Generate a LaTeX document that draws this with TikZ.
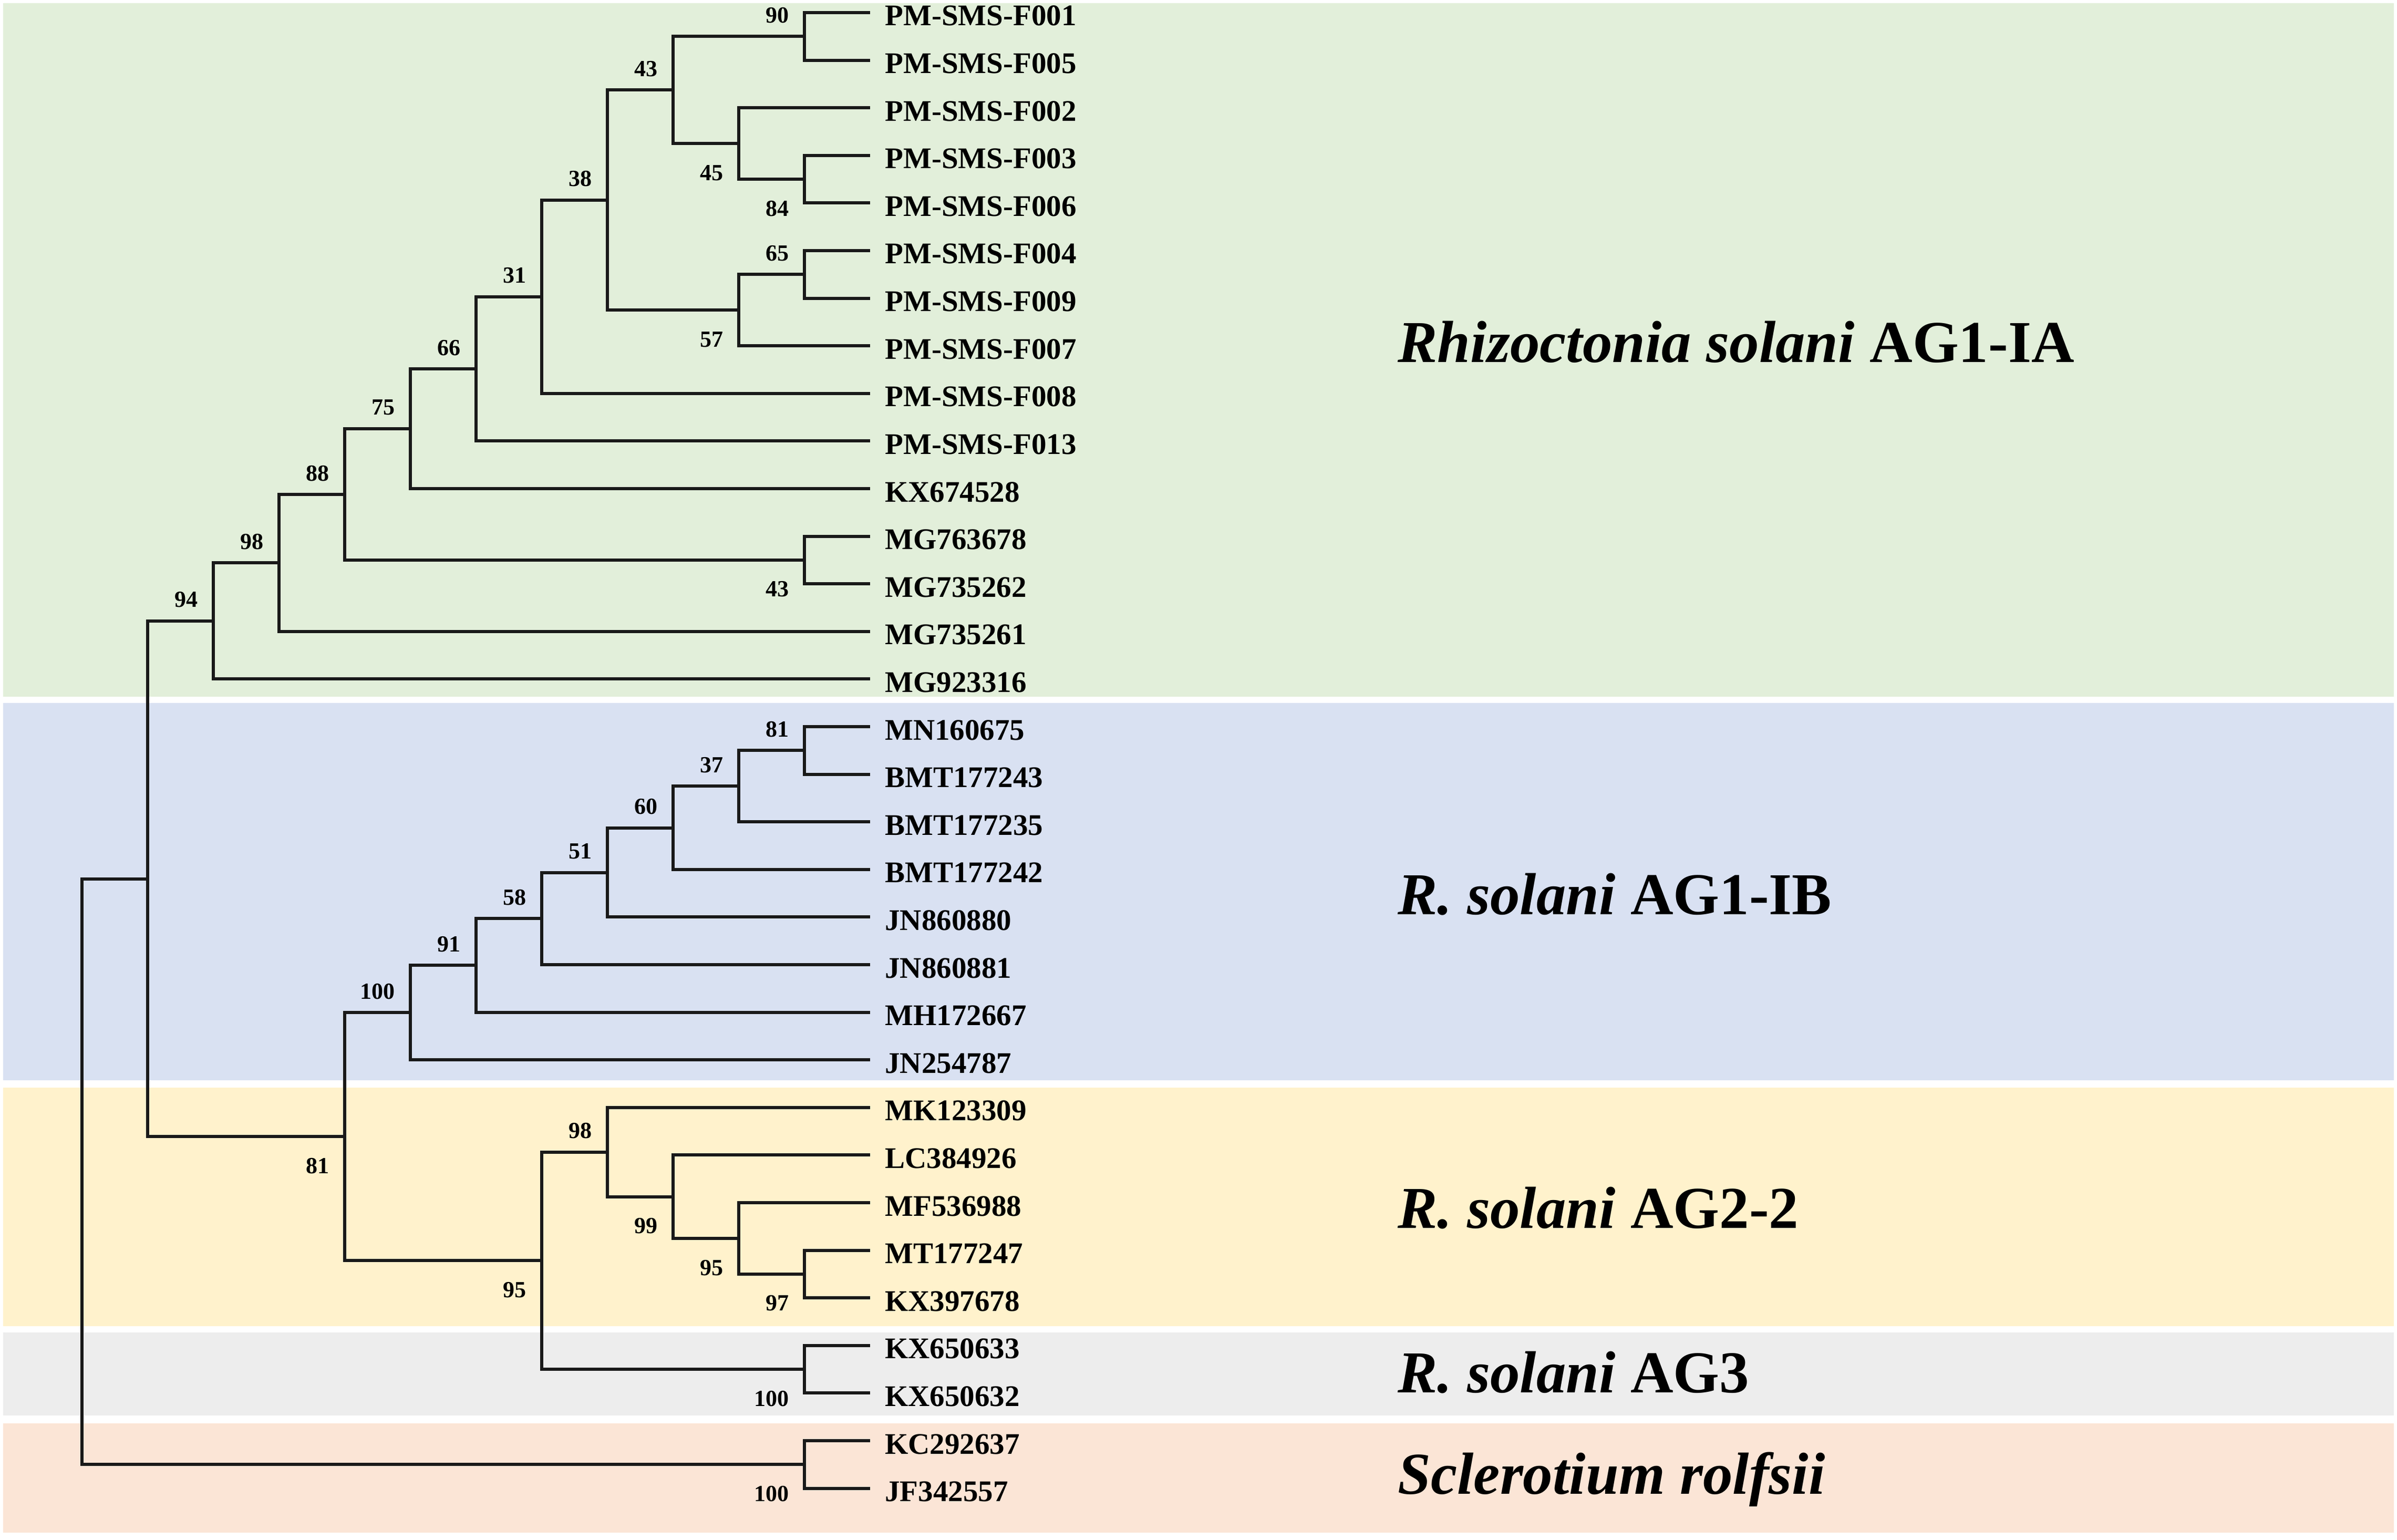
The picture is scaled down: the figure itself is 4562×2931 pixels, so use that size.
\documentclass[tikz,border=0pt]{standalone}
\usepackage{fontspec}
\setmainfont{Liberation Serif}
\definecolor{iafill}{HTML}{E2EFDA}
\definecolor{ibfill}{HTML}{D9E1F2}
\definecolor{agfill}{HTML}{FFF2CC}
\definecolor{agthreefill}{HTML}{EDEDED}
\definecolor{srfill}{HTML}{FBE5D6}
\tikzset{branch/.style = {line width = 3pt, color = black!90}}
\tikzset{leaf/.style = {anchor = west, inner xsep = 14pt, inner ysep = 0, text height = 25pt, text depth = 0pt, font = \fontsize{28.5}{30}\selectfont\bfseries}}
\tikzset{boot/.style = {anchor = base east, inner sep = 0, font = \fontsize{22}{24}\selectfont\bfseries}}
\tikzset{bup/.style = {boot, xshift = -14.5pt, yshift = 13pt}}
\tikzset{bdn/.style = {boot, xshift = -14.5pt, yshift = -35pt}}
\tikzset{clade/.style = {anchor = base west, inner sep = 0, font = \fontsize{56.5}{60}\selectfont\bfseries}}

\begin{document}
\begin{tikzpicture}[x = 0.5pt, y = -0.5pt]
      \useasboundingbox (0, 0) rectangle (4562, 2931);
      \fill [iafill] (6, 6) rectangle (4556, 1326);
      \fill [ibfill] (6, 1338) rectangle (4556, 2056);
      \fill [agfill] (6, 2070) rectangle (4556, 2524);
      \fill [agthreefill] (6, 2536) rectangle (4556, 2694);
      \fill [srfill] (6, 2709) rectangle (4556, 2917);

      \node [leaf] (F001) at (1656, 24.0) {PM-SMS-F001};
      \node [leaf] (F005) at (1656, 114.6) {PM-SMS-F005};
      \node [leaf] (F002) at (1656, 205.2) {PM-SMS-F002};
      \node [leaf] (F003) at (1656, 295.8) {PM-SMS-F003};
      \node [leaf] (F006) at (1656, 386.4) {PM-SMS-F006};
      \node [leaf] (F004) at (1656, 477.0) {PM-SMS-F004};
      \node [leaf] (F009) at (1656, 567.6) {PM-SMS-F009};
      \node [leaf] (F007) at (1656, 658.2) {PM-SMS-F007};
      \node [leaf] (F008) at (1656, 748.8) {PM-SMS-F008};
      \node [leaf] (F013) at (1656, 839.4) {PM-SMS-F013};
      \node [leaf] (KX674528) at (1656, 930.0) {KX674528};
      \node [leaf] (MG763678) at (1656, 1020.6) {MG763678};
      \node [leaf] (MG735262) at (1656, 1111.2) {MG735262};
      \node [leaf] (MG735261) at (1656, 1201.8) {MG735261};
      \node [leaf] (MG923316) at (1656, 1292.4) {MG923316};
      \node [leaf] (MN160675) at (1656, 1383.0) {MN160675};
      \node [leaf] (BMT177243) at (1656, 1473.6) {BMT177243};
      \node [leaf] (BMT177235) at (1656, 1564.2) {BMT177235};
      \node [leaf] (BMT177242) at (1656, 1654.8) {BMT177242};
      \node [leaf] (JN860880) at (1656, 1745.4) {JN860880};
      \node [leaf] (JN860881) at (1656, 1836.0) {JN860881};
      \node [leaf] (MH172667) at (1656, 1926.6) {MH172667};
      \node [leaf] (JN254787) at (1656, 2017.2) {JN254787};
      \node [leaf] (MK123309) at (1656, 2107.8) {MK123309};
      \node [leaf] (LC384926) at (1656, 2198.4) {LC384926};
      \node [leaf] (MF536988) at (1656, 2289.0) {MF536988};
      \node [leaf] (MT177247) at (1656, 2379.6) {MT177247};
      \node [leaf] (KX397678) at (1656, 2470.2) {KX397678};
      \node [leaf] (KX650633) at (1656, 2560.8) {KX650633};
      \node [leaf] (KX650632) at (1656, 2651.4) {KX650632};
      \node [leaf] (KC292637) at (1656, 2742.0) {KC292637};
      \node [leaf] (JF342557) at (1656, 2832.6) {JF342557};

      % inner nodes of the tree
      \coordinate (ia90) at (1531, 69.3);
      \coordinate (ia84) at (1531, 341.1);
      \coordinate (ia45) at (1406, 273.2);
      \coordinate (ia43) at (1281, 171.2);
      \coordinate (ia65) at (1531, 522.3);
      \coordinate (ia57) at (1406, 590.3);
      \coordinate (ia38) at (1156, 380.7);
      \coordinate (ia31) at (1031, 564.8);
      \coordinate (ia66) at (906, 702.1);
      \coordinate (ia75) at (781, 816.0);
      \coordinate (iamg) at (1531, 1065.9);
      \coordinate (ia88) at (656, 941.0);
      \coordinate (ia98) at (531, 1071.4);
      \coordinate (ia94) at (406, 1181.9);
      \coordinate (ib81) at (1531, 1428.3);
      \coordinate (ib37) at (1406, 1496.3);
      \coordinate (ib60) at (1281, 1575.5);
      \coordinate (ib51) at (1156, 1660.5);
      \coordinate (ib58) at (1031, 1748.2);
      \coordinate (ib91) at (906, 1837.4);
      \coordinate (ib100) at (781, 1927.3);
      \coordinate (ag97) at (1531, 2424.9);
      \coordinate (ag95) at (1406, 2357.0);
      \coordinate (ag99) at (1281, 2277.7);
      \coordinate (ag98) at (1156, 2192.7);
      \coordinate (ag3) at (1531, 2606.1);
      \coordinate (ag95b) at (1031, 2399.4);
      \coordinate (rs81) at (656, 2163.3);
      \coordinate (rs) at (281, 1672.6);
      \coordinate (sr100) at (1531, 2787.3);
      \coordinate (root) at (156, 2229.9);

      % AG1-IA
      \draw [branch] (ia90) |- (F001.west) (ia90) |- (F005.west);
      \draw [branch] (ia84) |- (F003.west) (ia84) |- (F006.west);
      \draw [branch] (ia45) |- (F002.west) (ia45) |- (ia84);
      \draw [branch] (ia43) |- (ia90) (ia43) |- (ia45);
      \draw [branch] (ia65) |- (F004.west) (ia65) |- (F009.west);
      \draw [branch] (ia57) |- (ia65) (ia57) |- (F007.west);
      \draw [branch] (ia38) |- (ia43) (ia38) |- (ia57);
      \draw [branch] (ia31) |- (ia38) (ia31) |- (F008.west);
      \draw [branch] (ia66) |- (ia31) (ia66) |- (F013.west);
      \draw [branch] (ia75) |- (ia66) (ia75) |- (KX674528.west);
      \draw [branch] (iamg) |- (MG763678.west) (iamg) |- (MG735262.west);
      \draw [branch] (ia88) |- (ia75) (ia88) |- (iamg);
      \draw [branch] (ia98) |- (ia88) (ia98) |- (MG735261.west);
      \draw [branch] (ia94) |- (ia98) (ia94) |- (MG923316.west);
      % AG1-IB
      \draw [branch] (ib81) |- (MN160675.west) (ib81) |- (BMT177243.west);
      \draw [branch] (ib37) |- (ib81) (ib37) |- (BMT177235.west);
      \draw [branch] (ib60) |- (ib37) (ib60) |- (BMT177242.west);
      \draw [branch] (ib51) |- (ib60) (ib51) |- (JN860880.west);
      \draw [branch] (ib58) |- (ib51) (ib58) |- (JN860881.west);
      \draw [branch] (ib91) |- (ib58) (ib91) |- (MH172667.west);
      \draw [branch] (ib100) |- (ib91) (ib100) |- (JN254787.west);
      % AG2-2 and AG3
      \draw [branch] (ag97) |- (MT177247.west) (ag97) |- (KX397678.west);
      \draw [branch] (ag95) |- (MF536988.west) (ag95) |- (ag97);
      \draw [branch] (ag99) |- (LC384926.west) (ag99) |- (ag95);
      \draw [branch] (ag98) |- (MK123309.west) (ag98) |- (ag99);
      \draw [branch] (ag3) |- (KX650633.west) (ag3) |- (KX650632.west);
      \draw [branch] (ag95b) |- (ag98) (ag95b) |- (ag3);
      \draw [branch] (rs81) |- (ib100) (rs81) |- (ag95b);
      \draw [branch] (rs) |- (ia94) (rs) |- (rs81);
      % Sclerotium and root
      \draw [branch] (sr100) |- (KC292637.west) (sr100) |- (JF342557.west);
      \draw [branch] (root) |- (rs) (root) |- (sr100);

      % bootstrap values
      \node [bup] (b1) at (ia90) {90};
      \node [bdn] (b2) at (ia84) {84};
      \node [bdn] (b3) at (ia45) {45};
      \node [bup] (b4) at (ia43) {43};
      \node [bup] (b5) at (ia65) {65};
      \node [bdn] (b6) at (ia57) {57};
      \node [bup] (b7) at (ia38) {38};
      \node [bup] (b8) at (ia31) {31};
      \node [bup] (b9) at (ia66) {66};
      \node [bup] (b10) at (ia75) {75};
      \node [bdn] (b11) at (iamg) {43};
      \node [bup] (b12) at (ia88) {88};
      \node [bup] (b13) at (ia98) {98};
      \node [bup] (b14) at (ia94) {94};
      \node [bup] (b15) at (ib81) {81};
      \node [bup] (b16) at (ib37) {37};
      \node [bup] (b17) at (ib60) {60};
      \node [bup] (b18) at (ib51) {51};
      \node [bup] (b19) at (ib58) {58};
      \node [bup] (b20) at (ib91) {91};
      \node [bup] (b21) at (ib100) {100};
      \node [bdn] (b22) at (ag97) {97};
      \node [bdn] (b23) at (ag95) {95};
      \node [bdn] (b24) at (ag99) {99};
      \node [bup] (b25) at (ag98) {98};
      \node [bdn] (b26) at (ag3) {100};
      \node [bdn] (b27) at (ag95b) {95};
      \node [bdn] (b28) at (rs81) {81};
      \node [bdn] (b29) at (sr100) {100};

      % group names
      \node [clade] (gIA) at (2660, 690) {\textit{Rhizoctonia solani} AG1-IA};
      \node [clade] (gIB) at (2660, 1740) {\textit{R. solani} AG1-IB};
      \node [clade] (gAG2) at (2660, 2337) {\textit{R. solani} AG2-2};
      \node [clade] (gAG3) at (2660, 2650) {\textit{R. solani} AG3};
      \node [clade] (gSR) at (2660, 2843) {\textit{Sclerotium rolfsii}};
\end{tikzpicture}
\end{document}
